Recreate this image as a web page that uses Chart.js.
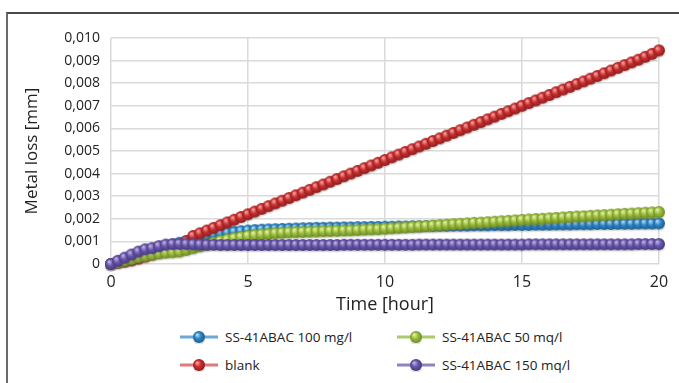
<!DOCTYPE html>
<html>
<head>
<meta charset="utf-8">
<script src="https://cdn.jsdelivr.net/npm/chart.js@4.4.1/dist/chart.umd.min.js"></script>
<style>
  body { margin: 0; background: #fff; font-family: 'Open Sans', sans-serif; }
  #wrap { position: relative; width: 679px; height: 383px; overflow: hidden; }
  #frame { position: absolute; left: 6px; top: 12px; right: -4px; bottom: -4px;
           border-top: 2px solid #4a4a4a; border-left: 2px solid #6a6a6a; }
  #chart { position: absolute; left: 0; top: 0; }
  .item { position: absolute; height: 16px; display: flex; align-items: center;
          font-size: 13.5px; color: #222; white-space: nowrap; }
  .item canvas { margin-right: 7px; }
</style>
</head>
<body>
<div id="wrap">
  <div id="frame"></div>
  <canvas id="chart" width="679" height="320"></canvas>
  <div id="legend"></div>
</div>
<script>
// time in hours, every 15 min
const times = [
  0, 0.25, 0.5, 0.75, 1, 1.25, 1.5, 1.75, 2,
  2.25, 2.5, 2.75, 3, 3.25, 3.5, 3.75, 4,
  4.25, 4.5, 4.75, 5, 5.25, 5.5, 5.75, 6,
  6.25, 6.5, 6.75, 7, 7.25, 7.5, 7.75, 8,
  8.25, 8.5, 8.75, 9, 9.25, 9.5, 9.75, 10,
  10.25, 10.5, 10.75, 11, 11.25, 11.5, 11.75, 12,
  12.25, 12.5, 12.75, 13, 13.25, 13.5, 13.75, 14,
  14.25, 14.5, 14.75, 15, 15.25, 15.5, 15.75, 16,
  16.25, 16.5, 16.75, 17, 17.25, 17.5, 17.75, 18,
  18.25, 18.5, 18.75, 19, 19.25, 19.5, 19.75, 20
];

// metal loss [mm]
const loss100 = [
  0, 0.0001, 0.0002, 0.0003, 0.0004, 0.0005, 0.0006, 0.0007, 0.00078,
  0.00086, 0.00094, 0.00102, 0.00109, 0.00116, 0.00122, 0.00128, 0.00134,
  0.00138, 0.00142, 0.00145, 0.00148, 0.0015, 0.00152, 0.00153, 0.00154,
  0.00155, 0.00156, 0.00157, 0.00158, 0.00159, 0.0016, 0.0016, 0.00161,
  0.00161, 0.00162, 0.00162, 0.00163, 0.00163, 0.00164, 0.00164, 0.00165,
  0.00165, 0.00166, 0.00166, 0.00167, 0.00167, 0.00168, 0.00168, 0.00169,
  0.00169, 0.0017, 0.0017, 0.0017, 0.00171, 0.00171, 0.00171, 0.00172,
  0.00172, 0.00172, 0.00173, 0.00173, 0.00173, 0.00174, 0.00174, 0.00174,
  0.00175, 0.00175, 0.00175, 0.00176, 0.00176, 0.00176, 0.00177, 0.00177,
  0.00177, 0.00178, 0.00178, 0.00178, 0.00179, 0.00179, 0.00179, 0.0018
];

const lossBlank = [
  0, 0.00005, 0.0001, 0.00016, 0.00024, 0.00033, 0.00042, 0.00052, 0.00062,
  0.00072, 0.00084, 0.001, 0.00124, 0.00136, 0.00148, 0.0016, 0.00172,
  0.00184, 0.00196, 0.00208, 0.0022, 0.00232, 0.00244, 0.00256, 0.00268,
  0.0028, 0.00292, 0.00304, 0.00316, 0.00328, 0.0034, 0.00352, 0.00364,
  0.00376, 0.00388, 0.004, 0.00412, 0.00424, 0.00436, 0.00448, 0.0046,
  0.00472, 0.00484, 0.00496, 0.00508, 0.0052, 0.00532, 0.00544, 0.00556,
  0.00568, 0.0058, 0.00592, 0.00604, 0.00616, 0.00628, 0.0064, 0.00652,
  0.00664, 0.00676, 0.00688, 0.007, 0.00712, 0.00724, 0.00736, 0.00748,
  0.0076, 0.00772, 0.00784, 0.00796, 0.00808, 0.0082, 0.00832, 0.00844,
  0.00856, 0.00868, 0.0088, 0.00892, 0.00904, 0.00917, 0.0093, 0.00945
];

const loss50 = [
  0, 0.00008, 0.00015, 0.00022, 0.0003, 0.00036, 0.00042, 0.00047, 0.0005,
  0.00052, 0.00055, 0.00062, 0.0007, 0.00078, 0.00086, 0.00094, 0.00102,
  0.00108, 0.00114, 0.00119, 0.00124, 0.00128, 0.00131, 0.00133, 0.00136,
  0.00138, 0.0014, 0.00141, 0.00142, 0.00143, 0.00144, 0.00145, 0.00146,
  0.00147, 0.00148, 0.00149, 0.0015, 0.00152, 0.00153, 0.00154, 0.00156,
  0.00158, 0.0016, 0.00162, 0.00164, 0.00166, 0.00168, 0.0017, 0.00172,
  0.00174, 0.00176, 0.00178, 0.0018, 0.00182, 0.00183, 0.00185, 0.00187,
  0.00189, 0.00191, 0.00193, 0.00195, 0.00197, 0.00199, 0.002, 0.00202,
  0.00204, 0.00206, 0.00208, 0.0021, 0.00211, 0.00213, 0.00215, 0.00216,
  0.00218, 0.0022, 0.00222, 0.00223, 0.00225, 0.00227, 0.00228, 0.0023
];

const loss150 = [
  0, 0.00014, 0.00028, 0.00042, 0.00055, 0.00065, 0.0007, 0.00079, 0.00086,
  0.00088, 0.00089, 0.00088, 0.00087, 0.00086, 0.00085, 0.00085, 0.00084,
  0.00084, 0.00084, 0.00084, 0.00084, 0.00084, 0.00084, 0.00084, 0.00084,
  0.00084, 0.00084, 0.00084, 0.00084, 0.00084, 0.00084, 0.00084, 0.00084,
  0.00084, 0.00085, 0.00085, 0.00085, 0.00085, 0.00085, 0.00085, 0.00085,
  0.00085, 0.00085, 0.00085, 0.00085, 0.00086, 0.00086, 0.00086, 0.00086,
  0.00086, 0.00086, 0.00086, 0.00086, 0.00086, 0.00086, 0.00086, 0.00086,
  0.00086, 0.00086, 0.00086, 0.00086, 0.00087, 0.00087, 0.00087, 0.00087,
  0.00087, 0.00087, 0.00087, 0.00087, 0.00087, 0.00087, 0.00087, 0.00087,
  0.00087, 0.00087, 0.00087, 0.00087, 0.00088, 0.00088, 0.00088, 0.00088
];

const seriesNames = ['SS-41ABAC 100 mg/l', 'blank', 'SS-41ABAC 50 mq/l', 'SS-41ABAC 150 mq/l'];

// little shaded ball used as point marker (with a soft shadow under it)
function makeBall(base, light, dark) {
  const c = document.createElement('canvas');
  c.width = 14;
  c.height = 20;
  const g = c.getContext('2d');
  g.fillStyle = 'rgba(90,90,90,0.18)';
  g.beginPath();
  g.ellipse(7, 13.5, 6, 4, 0, 0, Math.PI * 2);
  g.fill();
  const grad = g.createRadialGradient(5, 7.6, 0.4, 7, 10, 6.4);
  grad.addColorStop(0, light);
  grad.addColorStop(0.45, base);
  grad.addColorStop(1, dark);
  g.fillStyle = grad;
  g.beginPath();
  g.arc(7, 10, 6, 0, Math.PI * 2);
  g.fill();
  return c;
}

const styles = [
  { base: '#2f86c6', light: '#b4dcf5', dark: '#1b5a8c', legendLine: '#6ea6d8' },
  { base: '#cc2f2f', light: '#f4a3a3', dark: '#8a1818', legendLine: '#e07a7a' },
  { base: '#9cbd3d', light: '#e2f2a8', dark: '#68881f', legendLine: '#aac96d' },
  { base: '#6a58ac', light: '#bdb3e4', dark: '#42347a', legendLine: '#8f83c4' }
];
const seriesValues = [loss100, lossBlank, loss50, loss150];

function toPoints(vals) {
  return times.map((t, i) => ({ x: t, y: vals[i] }));
}

const datasets = seriesValues.map((vals, i) => ({
  label: seriesNames[i],
  data: toPoints(vals),
  borderColor: styles[i].base,
  borderWidth: 3,
  pointStyle: makeBall(styles[i].base, styles[i].light, styles[i].dark),
  pointRadius: 6,
  pointHoverRadius: 6,
  order: 4 - i,   // last series on top
  clip: 12,
  tension: 0
}));

const gridOpts = { color: '#dadada', lineWidth: 1.5, drawTicks: false };

const chart = new Chart(document.getElementById('chart'), {
  type: 'line',
  data: { datasets: datasets },
  options: {
    responsive: false,
    animation: false,
    layout: { padding: { top: 38, right: 20, left: 0, bottom: 0 } },
    plugins: { legend: { display: false }, tooltip: { enabled: false } },
    scales: {
      x: {
        type: 'linear',
        min: 0,
        max: 20,
        grid: gridOpts,
        border: { display: false },
        ticks: { stepSize: 5, padding: 9, color: '#222', font: { family: 'Open Sans', size: 16 } },
        title: {
          display: true, text: 'Time [hour]', color: '#222',
          font: { family: 'Open Sans', size: 18 },
          padding: { top: 0, bottom: 4 }
        },
        afterFit: function(scale) { scale.height = 56; }
      },
      y: {
        min: 0,
        max: 0.01,
        grid: gridOpts,
        border: { display: false },
        ticks: {
          stepSize: 0.001,
          padding: 11,
          color: '#222',
          font: { family: 'Open Sans', size: 14 },
          callback: function(value) {
            if (Math.abs(value) < 1e-9) return '0';
            return value.toFixed(3).replace('.', ',');
          }
        },
        title: {
          display: true, text: 'Metal loss [mm]', color: '#222',
          font: { family: 'Open Sans', size: 17 },
          padding: { top: 22, bottom: 0 }
        },
        afterFit: function(scale) { scale.width = 111; }
      }
    }
  }
});

// legend: two columns, filled column by column
const legendSlots = [
  { left: 180, top: 329 },
  { left: 180, top: 357 },
  { left: 397, top: 329 },
  { left: 397, top: 357 }
];
const legendBox = document.getElementById('legend');
chart.data.datasets.forEach((ds, i) => {
  const item = document.createElement('div');
  item.className = 'item';
  item.style.left = legendSlots[i].left + 'px';
  item.style.top = legendSlots[i].top + 'px';
  const mk = document.createElement('canvas');
  mk.width = 38;
  mk.height = 14;
  const g = mk.getContext('2d');
  g.strokeStyle = styles[i].legendLine;
  g.lineWidth = 3;
  g.beginPath();
  g.moveTo(0, 7);
  g.lineTo(38, 7);
  g.stroke();
  g.drawImage(ds.pointStyle, 12, -3);
  item.appendChild(mk);
  const txt = document.createElement('span');
  txt.textContent = ds.label;
  item.appendChild(txt);
  legendBox.appendChild(item);
});
</script>
</body>
</html>
